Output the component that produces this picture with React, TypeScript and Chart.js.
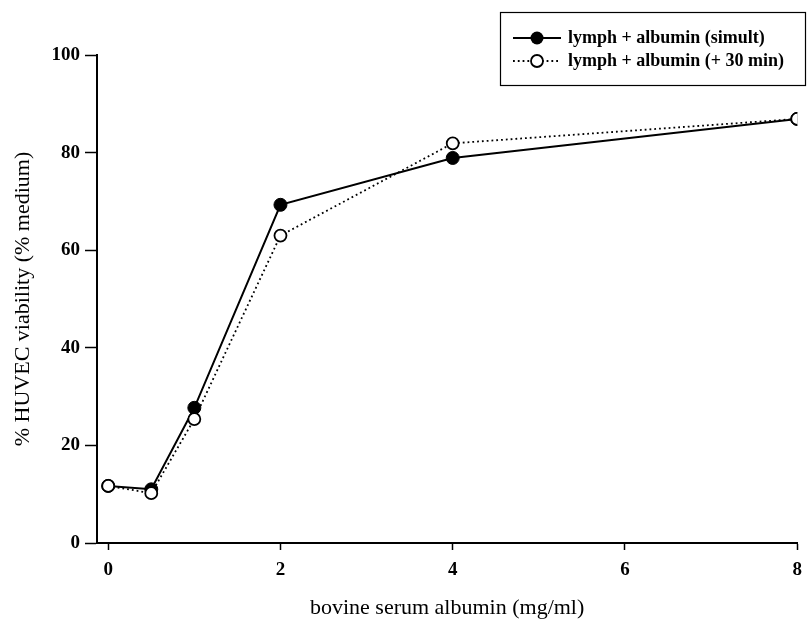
import React, { useEffect, useRef } from "react";
import { Chart, registerables } from "chart.js";

Chart.register(...registerables);

const albuminDoses = [0, 0.5, 1, 2, 4, 8];
const simultValues = [11.7, 11.0, 27.7, 69.3, 78.9, 86.9];
const delayedValues = [11.7, 10.2, 25.4, 63.0, 81.9, 86.9];
const xTickValues = [0, 2, 4, 6, 8];
const seriesLabels = ["lymph + albumin (simult)", "lymph + albumin (+ 30 min)"];
const xTitle = "bovine serum albumin (mg/ml)";
const yTitle = "% HUVEC viability (% medium)";

const FONT = "'Liberation Serif', 'Times New Roman', serif";

const legendPlugin = {
  id: "boxLegend",
  afterDraw(chart: any) {
    const ctx = chart.ctx as CanvasRenderingContext2D;
    ctx.save();
    const bx = 500.5, by = 12.5, bw = 305, bh = 73;
    ctx.strokeStyle = "#000";
    ctx.lineWidth = 1.2;
    ctx.strokeRect(bx, by, bw, bh);
    const rows = [38, 61];
    const x0 = 513, x1 = 561, cx = 537;
    ctx.setLineDash([]);
    ctx.lineWidth = 2;
    ctx.beginPath();
    ctx.moveTo(x0, rows[0]);
    ctx.lineTo(x1, rows[0]);
    ctx.stroke();
    ctx.beginPath();
    ctx.arc(cx, rows[0], 6.5, 0, Math.PI * 2);
    ctx.fillStyle = "#000";
    ctx.fill();
    ctx.lineWidth = 1.8;
    ctx.setLineDash([1.8, 3]);
    ctx.beginPath();
    ctx.moveTo(x0, rows[1]);
    ctx.lineTo(x1, rows[1]);
    ctx.stroke();
    ctx.setLineDash([]);
    ctx.beginPath();
    ctx.arc(cx, rows[1], 6, 0, Math.PI * 2);
    ctx.fillStyle = "#fff";
    ctx.fill();
    ctx.lineWidth = 1.8;
    ctx.stroke();
    ctx.fillStyle = "#000";
    ctx.font = `bold 18px ${FONT}`;
    ctx.textBaseline = "middle";
    ctx.textAlign = "left";
    ctx.fillText(seriesLabels[0], 568, rows[0]);
    ctx.fillText(seriesLabels[1], 568, rows[1]);
    ctx.restore();
  },
};

export default function App() {
  const ref = useRef<HTMLCanvasElement>(null);
  useEffect(() => {
    if (!ref.current) return;
    const chart = new Chart(ref.current, {
      type: "line",
      data: {
        datasets: [
          {
            label: seriesLabels[0],
            data: albuminDoses.map((x, i) => ({ x, y: simultValues[i] })),
            borderColor: "#000",
            borderWidth: 2,
            backgroundColor: "#000",
            pointRadius: 6.5,
            pointBackgroundColor: "#000",
            pointBorderColor: "#000",
            pointBorderWidth: 1,
            tension: 0,
            order: 1,
          },
          {
            label: seriesLabels[1],
            data: albuminDoses.map((x, i) => ({ x, y: delayedValues[i] })),
            borderColor: "#000",
            borderWidth: 1.8,
            borderDash: [1.8, 3],
            backgroundColor: "#fff",
            pointRadius: 6,
            pointBackgroundColor: "#fff",
            pointBorderColor: "#000",
            pointBorderWidth: 1.8,
            tension: 0,
            order: 0,
          },
        ],
      },
      options: {
        animation: false,
        responsive: false,
        layout: { padding: { top: 55, right: 11, left: 0, bottom: 0 } },
        plugins: { legend: { display: false }, tooltip: { enabled: false } },
        scales: {
          x: {
            type: "linear",
            min: -0.13,
            max: 8,
            afterBuildTicks: (s: any) => {
              s.ticks = xTickValues.map((v) => ({ value: v }));
            },
            afterFit: (s: any) => {
              s.height = 81;
            },
            grid: { drawOnChartArea: false, drawTicks: true, tickLength: 7, color: "#000", tickWidth: 1.5 },
            border: { display: true, color: "#000", width: 2 },
            ticks: {
              color: "#000",
              padding: 9,
              font: { family: FONT, size: 19, weight: "bold" },
              maxRotation: 0,
            },
            title: {
              display: true,
              text: xTitle,
              color: "#000",
              font: { family: FONT, size: 22 },
              padding: { top: 0, bottom: 3 },
            },
          },
          y: {
            type: "linear",
            min: 0,
            max: 100,
            ticks: {
              stepSize: 20,
              color: "#000",
              padding: 5,
              font: { family: FONT, size: 19, weight: "bold" },
            },
            afterFit: (s: any) => {
              s.width = 97;
            },
            grid: { drawOnChartArea: false, drawTicks: true, tickLength: 12, color: "#000", tickWidth: 1.5 },
            border: { display: true, color: "#000", width: 2 },
            title: {
              display: true,
              text: yTitle,
              color: "#000",
              font: { family: FONT, size: 22 },
              padding: { top: 10, bottom: 0 },
            },
          },
        },
      },
      plugins: [legendPlugin],
    });
    return () => chart.destroy();
  }, []);
  return (
    <div style={{ position: "absolute", left: 0, top: 0, width: 811, height: 624, background: "#fff" }}>
      <canvas ref={ref} width={811} height={624} />
    </div>
  );
}
